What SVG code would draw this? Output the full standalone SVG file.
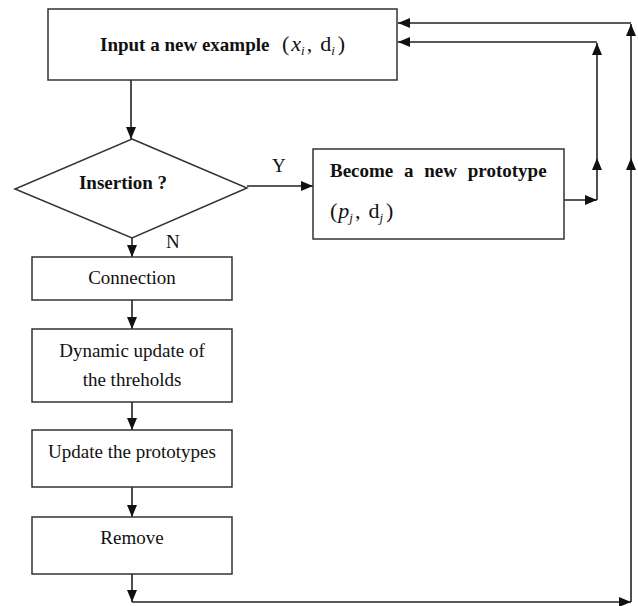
<svg xmlns="http://www.w3.org/2000/svg" width="638" height="606" viewBox="0 0 638 606">
<style>
.box{fill:#fff;stroke:#333;stroke-width:1.5}
.ln{fill:none;stroke:#222;stroke-width:1.6;marker-end:url(#ah)}
.b{font-family:"Liberation Serif","Times New Roman",serif;font-weight:bold;font-size:19px;fill:#111}
.r{font-family:"Liberation Serif","Times New Roman",serif;font-size:19px;fill:#111}
.m{font-size:22px}
.i{font-style:italic}
.s{font-size:13px;font-style:italic}
</style>
<defs>
<marker id="ah" markerUnits="userSpaceOnUse" markerWidth="13" markerHeight="10" refX="12" refY="5" orient="auto">
<path d="M0,0 L12,5 L0,10 Z" fill="#111"/>
</marker>
</defs>
<rect width="638" height="606" fill="#fff"/>
<g id="connectors">
<path class="ln" d="M131,80 V139"/>
<path class="ln" d="M247,186 H313"/>
<path class="ln" d="M132,238 V257"/>
<path class="ln" d="M132,300 V329"/>
<path class="ln" d="M132,402 V430"/>
<path class="ln" d="M132,487 V517"/>
<path class="ln" d="M132,574 V602"/>
<path class="ln" d="M132,602 H631"/>
<path class="ln" d="M631,602 V158"/>
<path class="ln" d="M631,158 V24"/>
<path class="ln" d="M631,23 H398"/>
<path class="ln" d="M564,200 H597"/>
<path class="ln" d="M597,200 V158"/>
<path class="ln" d="M597,158 V43"/>
<path class="ln" d="M597,42 H398"/>
</g>
<g id="input">
<rect class="box" x="48" y="9" width="349" height="71"/>
<text class="b" x="100" y="51">Input a new example</text>
<text class="r m" x="282" y="51">(<tspan class="i" dx="2">x</tspan><tspan class="s" dy="4">i</tspan><tspan dy="-4" dx="2">,</tspan><tspan dx="8">d</tspan><tspan class="s" dy="4">i</tspan><tspan dy="-4" dx="3">)</tspan></text>
</g>
<g id="insertion">
<polygon class="box" points="132,139 247,188 132,238 15,189"/>
<text class="b" x="123" y="189" text-anchor="middle">Insertion ?</text>
</g>
<g id="labels">
<text class="r" x="272" y="172" font-size="21">Y</text>
<text class="r" x="166" y="248" font-size="22">N</text>
</g>
<g id="prototype">
<rect class="box" x="313" y="149" width="251" height="90"/>
<text class="b" x="330" y="177" word-spacing="6">Become a new prototype</text>
<text class="r m" x="330" y="218">(<tspan class="i" dx="1">p</tspan><tspan class="s" dy="4">j</tspan><tspan dy="-4" dx="2">,</tspan><tspan dx="8">d</tspan><tspan class="s" dy="4">j</tspan><tspan dy="-4" dx="3">)</tspan></text>
</g>
<g id="connection">
<rect class="box" x="32" y="257" width="200" height="43"/>
<text class="r" x="132" y="284" text-anchor="middle">Connection</text>
</g>
<g id="dynamic">
<rect class="box" x="32" y="329" width="200" height="73"/>
<text class="r" x="132" y="357" text-anchor="middle">Dynamic update of</text>
<text class="r" x="132" y="386" text-anchor="middle">the threholds</text>
</g>
<g id="update">
<rect class="box" x="32" y="430" width="200" height="57"/>
<text class="r" x="132" y="458" text-anchor="middle">Update the prototypes</text>
</g>
<g id="remove">
<rect class="box" x="32" y="517" width="200" height="57"/>
<text class="r" x="132" y="544" text-anchor="middle">Remove</text>
</g>
</svg>
